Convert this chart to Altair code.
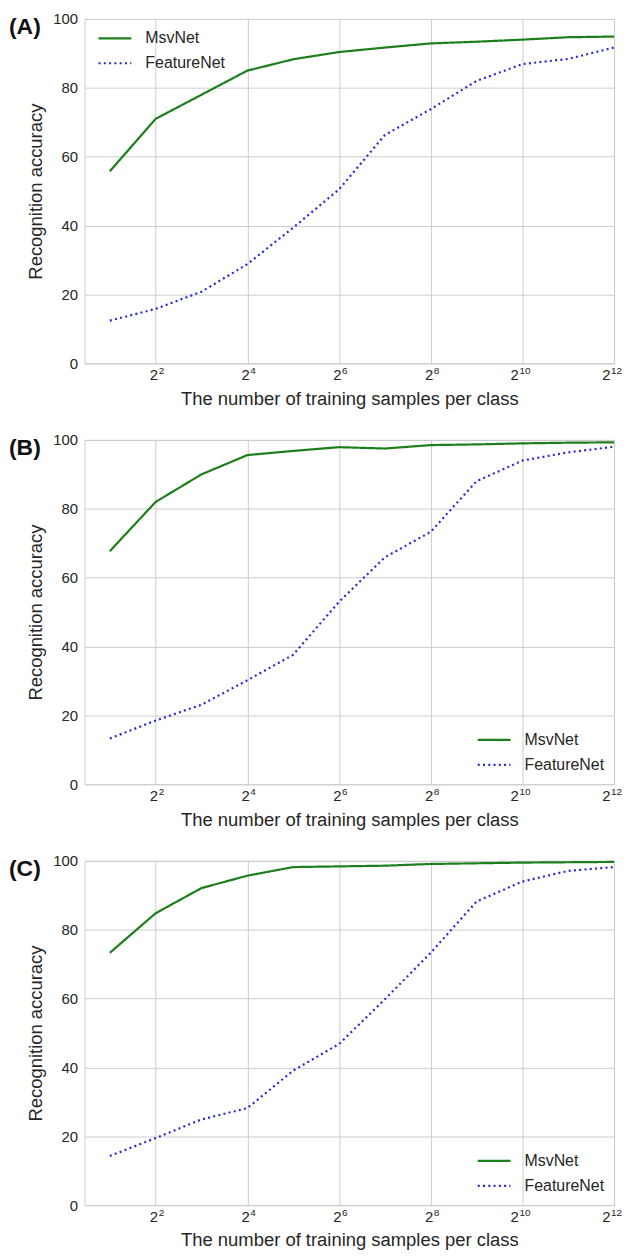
import altair as alt
import pandas as pd

samples = [2, 4, 8, 16, 32, 64, 128, 256, 512, 1024, 2048, 4096]
models = ["MsvNet", "FeatureNet"]

msv_a = [55.8, 71.0, 78.0, 85.0, 88.3, 90.4, 91.7, 92.9, 93.4, 94.0, 94.7, 94.9]
feat_a = [12.4, 15.8, 20.8, 28.8, 39.4, 50.5, 66.3, 73.8, 82.0, 86.9, 88.4, 91.7]

msv_b = [67.7, 82.0, 90.0, 95.6, 96.8, 97.9, 97.5, 98.5, 98.7, 99.0, 99.2, 99.3]
feat_b = [13.3, 18.5, 23.1, 30.2, 37.6, 53.0, 65.9, 73.3, 88.0, 94.0, 96.4, 98.0]

msv_c = [73.3, 84.8, 92.1, 95.7, 98.2, 98.4, 98.6, 99.1, 99.3, 99.5, 99.6, 99.7]
feat_c = [14.3, 19.5, 24.9, 28.2, 39.1, 46.8, 59.8, 73.3, 88.2, 94.0, 97.1, 98.2]

panel_labels = ["(A)", "(B)", "(C)"]
tick_values = [4, 16, 64, 256, 1024, 4096]
tick_exps = ["2", "4", "6", "8", "10", "12"]

GREEN = "#1c7f1c"
BLUE = "#2727d8"
FONT = "Liberation Sans"
TEXT = "#262626"

W, H = 532, 346
LABEL_PAD = 4


def panel(label, msv, feat, lx, ly):
    df = pd.DataFrame({
        "samples": samples * 2,
        "acc": msv + feat,
        "model": [models[0]] * len(samples) + [models[1]] * len(samples),
    })
    leg = dict(title=None, orient="none", legendX=lx, legendY=ly,
               symbolType="M-2,0L2,0", symbolSize=272, symbolStrokeWidth=2.2,
               labelFontSize=16, labelFont=FONT, labelColor=TEXT,
               labelOffset=21, rowPadding=7, padding=0)
    xscale = alt.Scale(type="log", base=2, domain=[1.366, 4096], nice=False)
    lines = alt.Chart(df).mark_line(strokeWidth=2.2).encode(
        x=alt.X("samples:Q", scale=xscale,
                axis=alt.Axis(values=tick_values, labelExpr="'2'", labelAlign="right",
                              labelOffset={"condition": {"test": "datum.value >= 1024", "value": -4},
                                           "value": 2},
                              title="The number of training samples per class")),
        y=alt.Y("acc:Q", scale=alt.Scale(domain=[0, 100], nice=False),
                axis=alt.Axis(values=[0, 20, 40, 60, 80, 100],
                              title="Recognition accuracy")),
        color=alt.Color("model:N", scale=alt.Scale(domain=models, range=[GREEN, BLUE]),
                        legend=alt.Legend(**leg)),
        strokeDash=alt.StrokeDash("model:N",
                                  scale=alt.Scale(domain=models, range=[[1, 0], [2, 3.3]]),
                                  legend=alt.Legend(**leg)),
        detail="model:N",
    )
    ticks_df = pd.DataFrame({"v": tick_values, "e": tick_exps})
    sup_base = alt.Chart(ticks_df).mark_text(
        font=FONT, fontSize=10, color=TEXT, align="left", baseline="top"
    ).encode(x=alt.X("v:Q", scale=xscale), y=alt.value(H + LABEL_PAD - 1), text="e:N")
    sup1 = sup_base.transform_filter("length(datum.e) == 1").mark_text(
        font=FONT, fontSize=10, color=TEXT, align="left", baseline="top", dx=3)
    sup2 = sup_base.transform_filter("length(datum.e) == 2").mark_text(
        font=FONT, fontSize=10, color=TEXT, align="left", baseline="top", dx=-3)
    lab = alt.Chart(pd.DataFrame({"t": [label]})).mark_text(
        font=FONT, fontSize=23, fontWeight="bold", color="#111111",
        align="left", baseline="alphabetic"
    ).encode(text="t:N", x=alt.value(-76), y=alt.value(15))
    return alt.layer(lines, sup1, sup2, lab).properties(width=W, height=H)


chart = alt.vconcat(
    panel(panel_labels[0], msv_a, feat_a, 21, 10),
    panel(panel_labels[1], msv_b, feat_b, 402, 292),
    panel(panel_labels[2], msv_c, feat_c, 402, 292),
    spacing=24,
).resolve_scale(
    color="independent", strokeDash="independent"
).resolve_legend(
    color="independent", strokeDash="independent"
).properties(
    padding={"left": 0, "top": 0, "right": 0, "bottom": 0}
).configure_view(
    stroke="#cccccc", strokeWidth=1
).configure_axis(
    grid=True, gridColor="#cccccc", gridWidth=1, domain=False, ticks=False,
    labelFont=FONT, labelFontSize=15, labelColor=TEXT, labelPadding=LABEL_PAD,
    titleFont=FONT, titleFontSize=18.5, titleColor=TEXT, titleFontWeight="normal",
).configure_axisY(
    titlePadding=7, labelPadding=7
).configure_axisX(
    titlePadding=7
)

chart.save("out.html", embed_options={"renderer": "svg", "actions": False})
